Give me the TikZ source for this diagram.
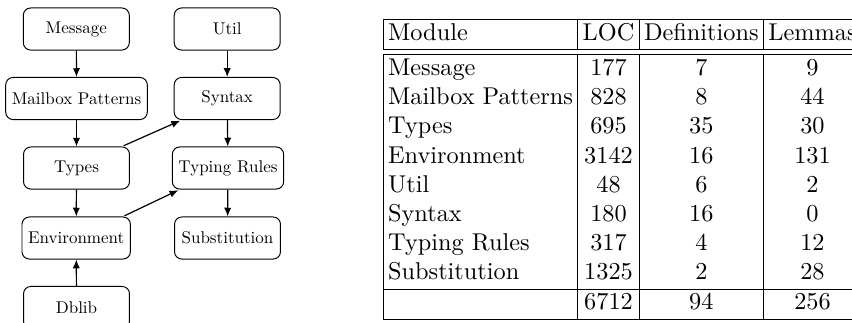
\documentclass[tikz,border=0pt]{standalone}
\usepackage{graphicx}
\usetikzlibrary{arrows.meta,calc}
\newcommand{\modtext}[1]{\scalebox{0.7}{#1}}
\begin{document}
\begin{tikzpicture}[x=0.4115pt,y=-0.4115pt,
  mod/.style={draw, rounded corners=3pt, inner xsep=2.5pt, inner ysep=0pt,
    minimum width=43.6pt, minimum height=17.3pt, line width=0.4pt},
  dep/.style={-{Latex[length=3.6pt,width=3pt]}, line width=0.5pt}]
\useasboundingbox (0,0) rectangle (852,322);
% module graph
\node[mod] (msg)   at (76.3,29)   {\modtext{Message}};
\node[mod] (util)  at (227.2,29)  {\modtext{Util}};
\node[mod] (mbox)  at (76.5,98.5) {\modtext{Mailbox Patterns}};
\node[mod] (syn)   at (227.2,98.5){\modtext{Syntax}};
\node[mod] (types) at (76.5,168)  {\modtext{Types}};
\node[mod] (trule) at (228,168)   {\modtext{Typing Rules}};
\node[mod] (env)   at (76.2,238)  {\modtext{Environment}};
\node[mod] (subst) at (227.5,238) {\modtext{Substitution}};
\node[mod] (dblib) at (76.5,307.5){\modtext{Dblib}};
\draw[dep] (msg) -- (mbox);
\draw[dep] (mbox) -- (types);
\draw[dep] (types) -- (env);
\draw[dep] (dblib) -- (env);
\draw[dep] (util) -- (syn);
\draw[dep] (syn) -- (trule);
\draw[dep] (trule) -- (subst);
\draw[dep] ($(types.north east)+(-6.4,-0.7)$) -- ($(syn.south west)+(6.4,0.7)$);
\draw[dep] ($(env.north east)+(-6.4,-0.7)$) -- ($(trule.south west)+(6.4,0.7)$);
% table
\node[anchor=north west, inner sep=0pt] (tab) at (382.8,18.8) {%
  \setlength{\tabcolsep}{2pt}%
  \begin{tabular}{|l|c|c|c|}
  \hline
  Module & LOC & Definitions & Lemmas\\
  \hline\hline
  Message & 177 & 7 & 9\\
  Mailbox Patterns & 828 & 8 & 44\\
  Types & 695 & 35 & 30\\
  Environment & 3142 & 16 & 131\\
  Util & 48 & 6 & 2\\
  Syntax & 180 & 16 & 0\\
  Typing Rules & 317 & 4 & 12\\
  Substitution & 1325 & 2 & 28\\
  \hline
   & 6712 & 94 & 256\\
  \hline
  \end{tabular}};
\end{tikzpicture}
\end{document}
